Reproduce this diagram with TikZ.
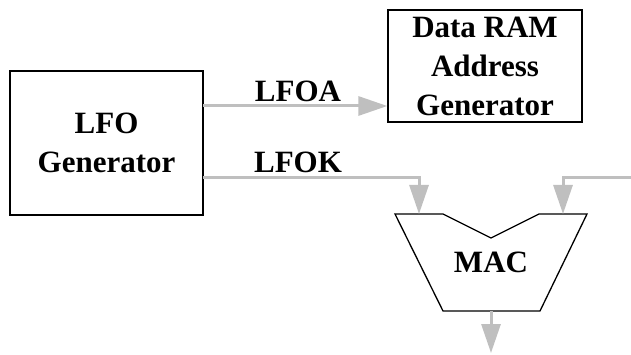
\documentclass[tikz,border=0pt]{standalone}
\usepackage{fontspec}
\setmainfont{Liberation Serif}
\usepackage{tikz}
\usetikzlibrary{arrows.meta}
\definecolor{wiregray}{HTML}{BFBFBF}
\tikzset{block/.style={draw,line width=1.3pt,align=center,font=\bfseries\fontsize{31}{39}\selectfont},
         lbl/.style={anchor=base,font=\bfseries\fontsize{31}{39}\selectfont},
         wire/.style={draw=wiregray,line width=3pt,-{Triangle[length=29pt,width=19pt]}}}
\begin{document}
\begin{tikzpicture}[x=1pt,y=-1pt]
\useasboundingbox (0,0) rectangle (631,355);
\node[block,minimum width=193pt,minimum height=144pt] (lfo) at (106.5,143) {LFO\\Generator};
\node[block,minimum width=194pt,minimum height=112pt] (ram) at (485,66) {Data RAM\\Address\\Generator};
\node[font=\bfseries\fontsize{31}{39}\selectfont] (mac) at (491,262) {MAC};
\draw[line width=1.3pt] (395,214) -- (443,214) -- (491,238) -- (539,214) -- (587,214)
  -- (540,311) -- (443,311) -- cycle;
\coordinate (lfoa) at (203,106);
\coordinate (lfok) at (203,178);
\coordinate (macl) at (419,214);
\coordinate (macr) at (563,214);
\coordinate (macb) at (491,311);
\coordinate (ext) at (631,178);
\coordinate (out) at (491,353);
\draw[wire] (lfoa) -- (lfoa -| ram.west);
\draw[wire] (lfok) -| (macl);
\draw[wire] (ext) -| (macr);
\draw[wire] (macb) -- (out);
\node[lbl] (la) at (298,102) {LFOA};
\node[lbl] (lk) at (298,173) {LFOK};
\end{tikzpicture}
\end{document}
